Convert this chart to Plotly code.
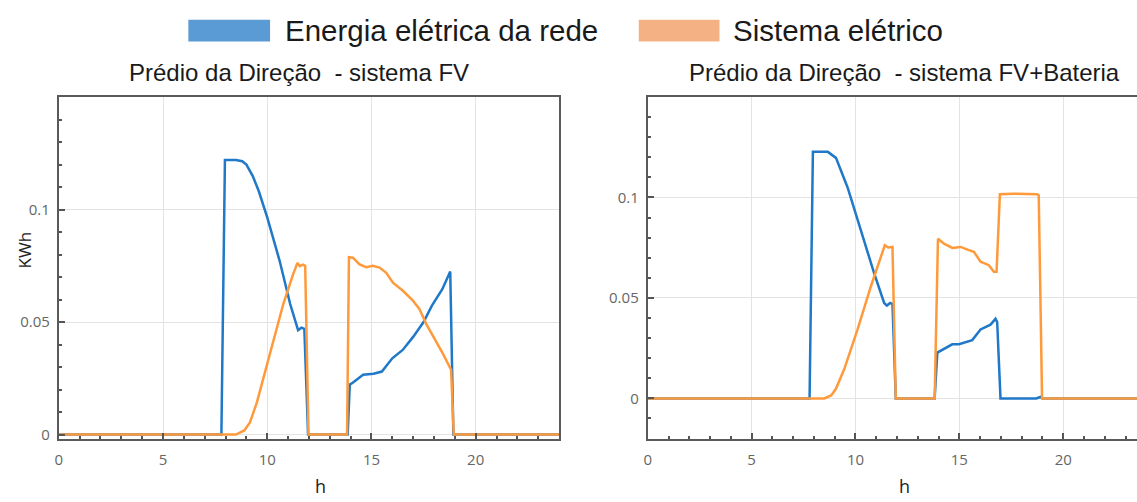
import plotly.graph_objects as go

# ---- data: hourly energy profile (kWh) for the "Prédio da Direção" building ----
# PV system only
hours_fv_grid = [0, 7.8, 7.97, 8.5, 8.8, 9.0, 9.3, 9.6, 10.0, 10.6, 11.1, 11.48, 11.64, 11.78, 11.96,
                 13.86, 13.96, 14.1, 14.6, 15.1, 15.5, 16.0, 16.5, 17.0, 17.5, 17.9, 18.4, 18.78, 18.93, 24]
fv_grid = [0, 0, 0.122, 0.122, 0.1215, 0.12, 0.115, 0.108, 0.0965, 0.077, 0.058, 0.0464, 0.0475, 0.047, 0,
           0, 0.0222, 0.023, 0.0266, 0.027, 0.028, 0.0339, 0.0376, 0.0434, 0.05, 0.0573, 0.0646, 0.0725, 0, 0]

hours_fv_sys = [0, 8.5, 8.9, 9.17, 9.5, 10.13, 10.77, 11.24, 11.45, 11.56, 11.72, 11.82, 11.98,
                13.83, 13.92, 14.11, 14.43, 14.75, 15.07, 15.39, 15.71, 16.03, 16.51, 16.99, 17.3, 17.62,
                17.94, 18.42, 18.82, 18.95, 24]
fv_sys = [0, 0, 0.0018, 0.0054, 0.0142, 0.036, 0.058, 0.0712, 0.0763, 0.0748, 0.0755, 0.075, 0,
          0, 0.0788, 0.0786, 0.0756, 0.0744, 0.075, 0.0742, 0.0719, 0.0675, 0.0639, 0.0595, 0.0558, 0.0493,
          0.0442, 0.0361, 0.0288, 0, 0]

# PV + battery system
hours_bat_grid = [0, 7.79, 7.95, 8.67, 9.06, 9.62, 10.26, 10.9, 11.38, 11.51, 11.67, 11.78, 11.94,
                  13.81, 13.94, 14.26, 14.66, 14.98, 15.22, 15.62, 16.02, 16.5, 16.74, 16.82, 16.98,
                  18.7, 18.9, 19.0, 24]
bat_grid = [0, 0, 0.1227, 0.1227, 0.1197, 0.105, 0.0836, 0.0622, 0.0475, 0.0462, 0.0475, 0.047, 0,
            0, 0.0228, 0.0245, 0.0269, 0.027, 0.0278, 0.029, 0.0343, 0.0367, 0.0396, 0.038, 0,
            0, 0.0007, 0, 0]

hours_bat_sys = [0, 8.5, 8.83, 9.06, 9.46, 10.1, 10.74, 11.22, 11.41, 11.57, 11.78, 11.94,
                 13.81, 13.97, 14.26, 14.66, 15.06, 15.46, 15.7, 16.02, 16.42, 16.66, 16.79, 16.95,
                 17.62, 18.74, 18.82, 18.98, 24]
bat_sys = [0, 0, 0.0015, 0.0048, 0.0146, 0.0343, 0.0557, 0.0704, 0.0762, 0.0751, 0.0754, 0,
           0, 0.0795, 0.077, 0.0749, 0.0754, 0.0738, 0.073, 0.068, 0.0663, 0.063, 0.063, 0.1016,
           0.1019, 0.1016, 0.101, 0, 0]

series_names = ["Energia elétrica da rede", "Sistema elétrico"]
panel_titles = ["Prédio da Direção  - sistema FV", "Prédio da Direção  - sistema FV+Bateria"]
x_ticks = [0, 5, 10, 15, 20]
y_ticks = [0, 0.05, 0.1]
y_tick_text = ["0", "0.05", "0.1"]

LINE_BLUE = "#1f78c8"
LINE_ORANGE = "#ff9a3c"
SWATCH_BLUE = "#5b9bd5"
SWATCH_ORANGE = "#f4b183"

W, H = 1137, 502

fig = go.Figure()
# grid energy drawn first, system energy on top
for xs, ys, col, ax in [
    (hours_fv_grid, fv_grid, LINE_BLUE, ("x", "y")),
    (hours_fv_sys, fv_sys, LINE_ORANGE, ("x", "y")),
    (hours_bat_grid, bat_grid, LINE_BLUE, ("x2", "y2")),
    (hours_bat_sys, bat_sys, LINE_ORANGE, ("x2", "y2")),
]:
    fig.add_trace(go.Scatter(x=xs, y=ys, mode="lines", xaxis=ax[0], yaxis=ax[1],
                             line=dict(color=col, width=2.5), showlegend=False,
                             hoverinfo="skip"))


def px_x(p):
    return p / W


def px_y(p):
    return (H - p) / H


tick_font = dict(family="Open Sans, DejaVu Sans, sans-serif", size=15, color="#666666")
common_x = dict(tickvals=x_ticks, showgrid=True, gridcolor="#e3e3e3", gridwidth=1,
                ticks="inside", ticklen=6, tickwidth=1.5, tickcolor="#555555",
                minor=dict(dtick=1, ticks="inside", ticklen=3, tickcolor="#555555", showgrid=False),
                showline=True, linecolor="#5a5a5a", linewidth=2, zeroline=False,
                tickfont=tick_font, fixedrange=True, ticklabelstandoff=6)
common_y = dict(tickvals=y_ticks, ticktext=y_tick_text, showgrid=True, gridcolor="#e3e3e3",
                gridwidth=1, ticks="inside", ticklen=6, tickwidth=1.5, tickcolor="#555555",
                minor=dict(dtick=0.01, ticks="inside", ticklen=3, tickcolor="#555555", showgrid=False),
                showline=True, linecolor="#5a5a5a", linewidth=2, zeroline=False,
                tickfont=tick_font, fixedrange=True, ticklabelstandoff=4)

fig.update_layout(
    width=W, height=H,
    margin=dict(l=0, r=0, t=0, b=0),
    paper_bgcolor="white", plot_bgcolor="white",
    xaxis=dict(common_x, domain=[px_x(55), px_x(557)], range=[0, 24], mirror=True, anchor="y"),
    yaxis=dict(common_y, domain=[px_y(443), px_y(98)], range=[-0.0018, 0.15], mirror=True, anchor="x"),
    xaxis2=dict(common_x, domain=[px_x(646), 1.0], range=[0, 23.55], mirror=True, anchor="y2"),
    yaxis2=dict(common_y, domain=[px_y(443), px_y(98)], range=[-0.02, 0.15], mirror=False, anchor="x2"),
)

# legend swatches and labels across the top
shapes = []
annotations = []
for (x0, x1, color), (tx, name) in zip(
        [(185, 267, SWATCH_BLUE), (637, 718, SWATCH_ORANGE)],
        [(280, series_names[0]), (730, series_names[1])]):
    shapes.append(dict(type="rect", xref="paper", yref="paper",
                       x0=px_x(x0), x1=px_x(x1), y0=px_y(42), y1=px_y(20),
                       fillcolor=color, line=dict(width=0)))
    annotations.append(dict(text=name, xref="paper", yref="paper", x=px_x(tx), y=px_y(31),
                            xanchor="left", yanchor="middle", showarrow=False,
                            font=dict(family="Liberation Sans, Arial, sans-serif", size=29.5,
                                      color="#1a1a1a")))

# panel titles
for cx, title in zip([296, 904], panel_titles):
    annotations.append(dict(text=title, xref="paper", yref="paper", x=px_x(cx), y=px_y(73),
                            xanchor="center", yanchor="middle", showarrow=False,
                            font=dict(family="Liberation Sans, Arial, sans-serif", size=24,
                                      color="#1a1a1a")))

# axis titles
for cx in [318, 904]:
    annotations.append(dict(text="h", xref="paper", yref="paper", x=px_x(cx), y=px_y(491),
                            xanchor="center", yanchor="middle", showarrow=False,
                            font=dict(family="Open Sans, DejaVu Sans, sans-serif", size=18,
                                      color="#222222")))
annotations.append(dict(text="KWh", xref="paper", yref="paper", x=px_x(21), y=px_y(252),
                        xanchor="center", yanchor="middle", showarrow=False, textangle=-90,
                        font=dict(family="Open Sans, DejaVu Sans, sans-serif", size=17,
                                  color="#222222")))

fig.update_layout(shapes=shapes, annotations=annotations)
fig.write_html("out.html")
